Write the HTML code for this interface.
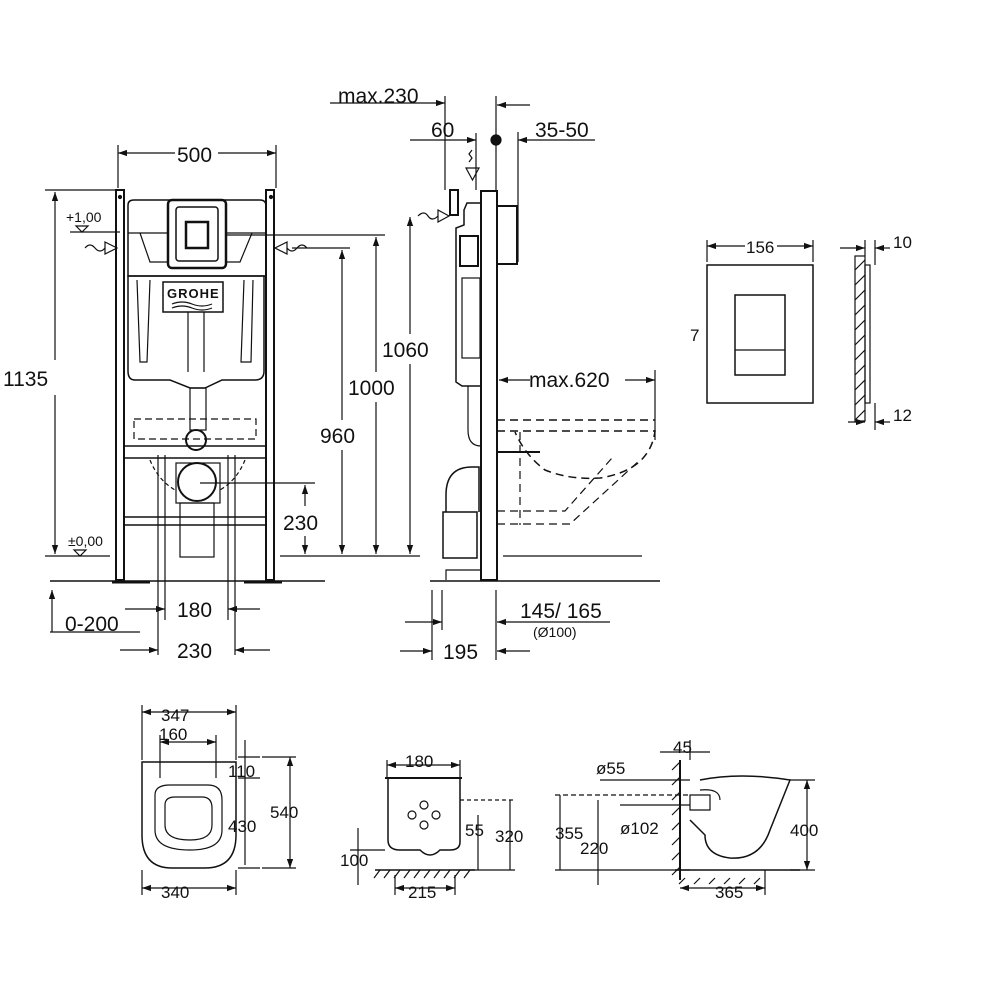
<!DOCTYPE html>
<html><head><meta charset="utf-8"><style>
html,body{margin:0;padding:0;background:#fff;}
svg{display:block;}
text{font-family:"Liberation Sans",sans-serif;fill:#111;}
.t{font-size:21px;}
.s{font-size:17px;}
.x{font-size:14px;}
</style></head><body>
<svg width="1000" height="1000" viewBox="0 0 1000 1000" xmlns="http://www.w3.org/2000/svg">
<defs>
<marker id="a" viewBox="0 0 10 10" refX="10" refY="5" markerWidth="9" markerHeight="9" orient="auto-start-reverse" markerUnits="userSpaceOnUse"><path d="M0 1.5 L10 5 L0 8.5 Z" fill="#111"/></marker>
</defs>
<g stroke="#111" fill="none" stroke-width="1.2">
<!-- ===== FRONT VIEW ===== -->
<rect x="116" y="190" width="8" height="390" fill="#fff" stroke-width="2"/>
<rect x="266" y="190" width="8" height="390" fill="#fff" stroke-width="2"/>
<circle cx="120" cy="197" r="1.5" fill="#111"/><circle cx="271" cy="197" r="1.5" fill="#111"/>
<line x1="112" y1="582" x2="150" y2="582" stroke-width="3"/>
<line x1="244" y1="582" x2="282" y2="582" stroke-width="3"/>
<line x1="124" y1="446" x2="266" y2="446" stroke-width="1.5"/>
<line x1="124" y1="458" x2="266" y2="458" stroke-width="1.5"/>
<line x1="124" y1="517" x2="266" y2="517" stroke-width="1.5"/>
<line x1="124" y1="525" x2="266" y2="525" stroke-width="1.5"/>
<!-- tank -->
<path d="M128 205 Q128 200 134 200 H260 Q266 200 266 206 V276 H128 Z" stroke-width="1.5"/>
<path d="M128 233 H266 M140 233 L150 262 H240 L252 233"/>
<path d="M128 276 H264 V371 Q264 380 255 380 H222 L205 388 H190 L170 380 H135 Q128 380 128 371 Z" stroke-width="1.5"/>
<rect x="168" y="200" width="58" height="68" rx="4" stroke-width="2.5" fill="#fff"/>
<rect x="176" y="207" width="42" height="54" rx="3" stroke-width="1.5"/>
<rect x="186" y="222" width="22" height="26" stroke-width="2.5"/>
<rect x="163" y="282" width="60" height="30" stroke-width="1.5"/>
<text x="167" y="298" style="font-size:13px;font-weight:bold;letter-spacing:1px" fill="#666" stroke="none">GROHE</text>
<path d="M172 304 q10 -4 20 0 t20 0 M172 308 q10 -4 20 0 t20 0" />
<path d="M137 280 L140 362 H147 L150 280 M244 280 L241 362 H251 L253 280"/>
<line x1="188" y1="312" x2="188" y2="372"/><line x1="204" y1="312" x2="204" y2="372"/>
<rect x="190" y="388" width="16" height="42"/>
<circle cx="196" cy="440" r="10" stroke-width="2"/>
<rect x="134" y="419" width="122" height="20" stroke-dasharray="7 4"/>
<circle cx="197" cy="482" r="19" stroke-width="2"/>
<rect x="176" y="463" width="44" height="40"/>
<rect x="180" y="503" width="34" height="54"/>
<path d="M150 460 q8 20 25 30 M245 460 q-8 20 -25 30" stroke-dasharray="4 3"/>
<!-- inlet arrows -->
<path d="M85 248 q5 -6 10 0 t10 0" /><path d="M105 242 l12 6 l-12 6 z"/>
<path d="M307 248 q-5 -6 -10 0 t-10 0" /><path d="M287 242 l-12 6 l12 6 z"/>
<!-- dims front -->
<line x1="118" y1="153" x2="175" y2="153" marker-start="url(#a)"/>
<line x1="218" y1="153" x2="276" y2="153" marker-end="url(#a)"/>
<line x1="118" y1="145" x2="118" y2="188"/><line x1="276" y1="145" x2="276" y2="188"/>
<line x1="55" y1="192" x2="55" y2="360" marker-start="url(#a)"/>
<line x1="55" y1="395" x2="55" y2="554" marker-end="url(#a)"/>
<line x1="45" y1="190" x2="116" y2="190"/>
<line x1="45" y1="556" x2="110" y2="556"/>
<line x1="70" y1="232" x2="120" y2="232"/>
<path d="M76 226 l6 6 l6 -6 z"/>
<path d="M74 550 l6 6 l6 -6 z"/>
<line x1="50" y1="581" x2="325" y2="581" stroke-width="1.5"/>
<line x1="430" y1="581" x2="660" y2="581" stroke-width="1.5"/>
<line x1="52" y1="590" x2="52" y2="632" marker-start="url(#a)"/>
<line x1="50" y1="632" x2="140" y2="632"/>
<line x1="342" y1="250" x2="342" y2="420" marker-start="url(#a)"/>
<line x1="342" y1="450" x2="342" y2="554" marker-end="url(#a)"/>
<line x1="292" y1="248" x2="350" y2="248"/>
<line x1="376" y1="237" x2="376" y2="372" marker-start="url(#a)"/>
<line x1="376" y1="402" x2="376" y2="554" marker-end="url(#a)"/>
<line x1="226" y1="235" x2="385" y2="235"/>
<line x1="410" y1="217" x2="410" y2="334" marker-start="url(#a)"/>
<line x1="410" y1="364" x2="410" y2="554" marker-end="url(#a)"/>
<line x1="305" y1="485" x2="305" y2="506" marker-start="url(#a)"/>
<line x1="305" y1="536" x2="305" y2="554" marker-end="url(#a)"/>
<line x1="200" y1="483" x2="315" y2="483"/>
<line x1="280" y1="556" x2="420" y2="556"/>
<line x1="158" y1="455" x2="158" y2="655"/>
<line x1="235" y1="455" x2="235" y2="655"/>
<line x1="165" y1="455" x2="165" y2="620"/>
<line x1="228" y1="455" x2="228" y2="620"/>
<line x1="125" y1="609" x2="165" y2="609" marker-end="url(#a)"/>
<line x1="228" y1="609" x2="260" y2="609" marker-start="url(#a)"/>
<line x1="120" y1="650" x2="158" y2="650" marker-end="url(#a)"/>
<line x1="235" y1="650" x2="270" y2="650" marker-start="url(#a)"/>
<!-- ===== SIDE VIEW ===== -->
<rect x="481" y="191" width="16" height="389" stroke-width="2"/>
<line x1="496" y1="96" x2="496" y2="190"/>
<line x1="330" y1="103" x2="445" y2="103" marker-end="url(#a)"/>
<line x1="445" y1="96" x2="445" y2="190"/>
<line x1="530" y1="105" x2="497" y2="105" marker-end="url(#a)"/>
<line x1="410" y1="140" x2="476" y2="140" marker-end="url(#a)"/>
<line x1="476" y1="133" x2="476" y2="190"/>
<line x1="595" y1="140" x2="518" y2="140" marker-end="url(#a)"/>
<line x1="518" y1="132" x2="518" y2="262"/>
<circle cx="496" cy="140" r="5" fill="#111"/>
<rect x="497" y="206" width="20" height="58" stroke-width="2"/>
<path d="M481 203 H467 L464 210 V225 L456 228 V382 L462 386 H481" stroke-width="1.5"/>
<rect x="460" y="236" width="18" height="30" stroke-width="2"/>
<rect x="462" y="278" width="18" height="80"/>
<path d="M468 386 V430 Q468 446 481 446"/>
<path d="M446 512 V495 Q446 467 472 467 H479 V512" stroke-width="1.5"/>
<rect x="443" y="512" width="34" height="46" stroke-width="1.5"/>
<path d="M446 580 v-10 h35"/>
<path d="M472 150 l-3 4 l3 4 l-3 4 M466 168 l13 0 l-6.5 12 z"/>
<path d="M418 216 q6 -6 10 0 t10 0"/><path d="M438 210 l11 6 l-11 6 z"/>
<path d="M450 190 h8 v25 h-8 z" stroke-width="2"/>
<line x1="499" y1="380" x2="530" y2="380" marker-start="url(#a)"/>
<line x1="625" y1="380" x2="655" y2="380" marker-end="url(#a)"/>
<line x1="655" y1="370" x2="655" y2="440"/>
<path d="M497 420 H655 M497 431 H655 Q650 470 600 478 Q570 480 545 470 Q525 455 515 432" stroke-dasharray="8 5" stroke-width="1.5"/>
<path d="M520 432 V525 M497 511 H565 L612 458 M497 524 H570 L640 460" stroke-dasharray="8 5"/>
<line x1="497" y1="452" x2="540" y2="452" stroke-width="2"/>
<line x1="503" y1="556" x2="642" y2="556"/>
<line x1="432" y1="590" x2="432" y2="660"/>
<line x1="442" y1="590" x2="442" y2="630"/>
<line x1="496" y1="590" x2="496" y2="660"/>
<line x1="405" y1="622" x2="442" y2="622" marker-end="url(#a)"/>
<line x1="610" y1="622" x2="497" y2="622" marker-end="url(#a)"/>
<line x1="400" y1="651" x2="432" y2="651" marker-end="url(#a)"/>
<line x1="530" y1="651" x2="497" y2="651" marker-end="url(#a)"/>
<!-- ===== FLUSH PLATE ===== -->
<rect x="707" y="265" width="106" height="138" stroke-width="1.5"/>
<rect x="735" y="295" width="50" height="80" stroke-width="1.5"/>
<line x1="735" y1="350" x2="785" y2="350"/>
<line x1="707" y1="240" x2="707" y2="262"/><line x1="813" y1="240" x2="813" y2="262"/>
<line x1="707" y1="246" x2="745" y2="246" marker-start="url(#a)"/><line x1="777" y1="246" x2="813" y2="246" marker-end="url(#a)"/>
<rect x="855" y="256" width="10" height="165" stroke-width="1.2"/>
<path d="M855 270 l10 -10 M855 285 l10 -10 M855 300 l10 -10 M855 315 l10 -10 M855 330 l10 -10 M855 345 l10 -10 M855 360 l10 -10 M855 375 l10 -10 M855 390 l10 -10 M855 405 l10 -10 M855 420 l10 -10"/>
<rect x="865" y="265" width="5" height="138"/>
<line x1="865" y1="240" x2="865" y2="256"/><line x1="875" y1="240" x2="875" y2="265"/>
<line x1="840" y1="248" x2="865" y2="248" marker-end="url(#a)"/><line x1="890" y1="248" x2="875" y2="248" marker-end="url(#a)"/>
<line x1="848" y1="422" x2="865" y2="422" marker-end="url(#a)"/><line x1="890" y1="422" x2="875" y2="422" marker-end="url(#a)"/>
<line x1="875" y1="403" x2="875" y2="430"/>
<!-- ===== BOTTOM LEFT TOILET ===== -->
<path d="M142 762 H236 V835 Q236 868 205 868 H172 Q142 868 142 835 Z" stroke-width="1.5"/>
<path d="M155 795 Q155 785 170 785 H208 Q222 785 222 800 V830 Q222 850 190 850 Q155 850 155 830 Z"/>
<path d="M165 805 Q165 797 175 797 H202 Q212 797 212 808 V825 Q212 840 190 840 Q165 840 165 825 Z"/>
<line x1="142" y1="712" x2="236" y2="712" marker-start="url(#a)" marker-end="url(#a)"/><line x1="142" y1="705" x2="142" y2="760"/><line x1="236" y1="705" x2="236" y2="760"/>
<line x1="160" y1="742" x2="216" y2="742" marker-start="url(#a)" marker-end="url(#a)"/><line x1="160" y1="735" x2="160" y2="778"/><line x1="216" y1="735" x2="216" y2="778"/>
<line x1="142" y1="888" x2="236" y2="888" marker-start="url(#a)" marker-end="url(#a)"/><line x1="142" y1="870" x2="142" y2="895"/><line x1="236" y1="870" x2="236" y2="895"/>
<line x1="245" y1="740" x2="245" y2="865"/><line x1="238" y1="757" x2="260" y2="757"/><line x1="238" y1="778" x2="260" y2="778"/><line x1="238" y1="868" x2="260" y2="868"/>
<line x1="290" y1="757" x2="290" y2="868" marker-start="url(#a)" marker-end="url(#a)"/><line x1="262" y1="757" x2="296" y2="757"/><line x1="262" y1="868" x2="296" y2="868"/>
<!-- ===== BOTTOM MIDDLE ===== -->
<path d="M388 778 H460 V842 Q460 850 450 850 H440 Q430 860 420 850 H400 Q388 850 388 840 Z" stroke-width="1.5"/>
<line x1="385" y1="778" x2="462" y2="778" stroke-width="2"/>
<circle cx="424" cy="805" r="4"/><circle cx="424" cy="825" r="4"/><circle cx="412" cy="815" r="4"/><circle cx="436" cy="815" r="4"/>
<line x1="387" y1="760" x2="387" y2="778"/><line x1="460" y1="760" x2="460" y2="778"/><line x1="387" y1="765" x2="460" y2="765" marker-start="url(#a)" marker-end="url(#a)"/>
<line x1="375" y1="870" x2="475" y2="870" stroke-width="1.5"/>
<path d="M380 870 l-6 8 M390 870 l-6 8 M400 870 l-6 8 M410 870 l-6 8 M420 870 l-6 8 M430 870 l-6 8 M440 870 l-6 8 M450 870 l-6 8 M460 870 l-6 8 M470 870 l-6 8"/>
<line x1="358" y1="828" x2="358" y2="885"/><line x1="350" y1="850" x2="385" y2="850"/>
<line x1="460" y1="800" x2="515" y2="800" stroke-dasharray="4 3"/>
<line x1="510" y1="800" x2="510" y2="870"/><line x1="478" y1="815" x2="478" y2="870"/>
<line x1="460" y1="870" x2="515" y2="870"/>
<line x1="395" y1="888" x2="455" y2="888" marker-start="url(#a)" marker-end="url(#a)"/><line x1="395" y1="875" x2="395" y2="895"/><line x1="455" y1="875" x2="455" y2="895"/>
<!-- ===== BOTTOM RIGHT ===== -->
<line x1="680" y1="760" x2="680" y2="880" stroke-width="2"/>
<path d="M672 770 l8 -8 M672 785 l8 -8 M672 800 l8 -8 M672 815 l8 -8 M672 830 l8 -8 M672 845 l8 -8 M672 860 l8 -8 M672 875 l8 -8"/>
<line x1="675" y1="870" x2="800" y2="870" stroke-width="1.5"/>
<path d="M685 878 l-6 6 M700 878 l-6 6 M715 878 l-6 6 M730 878 l-6 6 M745 878 l-6 6 M760 878 l-6 6"/>
<path d="M700 780 Q740 772 790 780 L770 830 Q760 860 730 858 Q705 855 705 835 L690 820" stroke-width="1.5"/>
<path d="M690 795 H710 V810 H690 Z M700 790 Q720 788 720 800"/>
<line x1="555" y1="795" x2="690" y2="795" stroke-dasharray="5 3"/>
<line x1="600" y1="780" x2="690" y2="780"/>
<line x1="560" y1="795" x2="560" y2="870"/>
<line x1="598" y1="800" x2="598" y2="885"/>
<line x1="555" y1="870" x2="690" y2="870"/>
<line x1="620" y1="805" x2="690" y2="805"/>
<line x1="690" y1="740" x2="690" y2="760"/><line x1="660" y1="752" x2="710" y2="752"/>
<line x1="807" y1="780" x2="807" y2="870" marker-start="url(#a)" marker-end="url(#a)"/><line x1="790" y1="780" x2="815" y2="780"/><line x1="790" y1="870" x2="815" y2="870"/>
<line x1="680" y1="888" x2="765" y2="888" marker-start="url(#a)" marker-end="url(#a)"/><line x1="765" y1="870" x2="765" y2="895"/>
</g>
<!-- TEXT -->
<text class="t" x="177" y="162">500</text>
<text class="x" x="66" y="222">+1,00</text>
<text class="x" x="68" y="546">±0,00</text>
<text class="t" x="3" y="386">1135</text>
<text class="t" x="320" y="443">960</text>
<text class="t" x="348" y="395">1000</text>
<text class="t" x="382" y="357">1060</text>
<text class="t" x="283" y="530">230</text>
<text class="t" x="177" y="617">180</text>
<text class="t" x="177" y="658">230</text>
<text class="t" x="65" y="631">0-200</text>
<text class="t" x="338" y="103">max.230</text>
<text class="t" x="431" y="137">60</text>
<text class="t" x="535" y="137">35-50</text>
<text class="t" x="529" y="387">max.620</text>
<text class="t" x="520" y="618">145/ 165</text>
<text class="x" x="533" y="637">(Ø100)</text>
<text class="t" x="443" y="659">195</text>
<text class="s" x="746" y="253">156</text>
<text class="s" x="690" y="341">7</text>
<text class="s" x="893" y="248">10</text>
<text class="s" x="893" y="421">12</text>
<text class="s" x="161" y="721">347</text>
<text class="s" x="159" y="740">160</text>
<text class="s" x="228" y="777">110</text>
<text class="s" x="228" y="832">430</text>
<text class="s" x="270" y="818">540</text>
<text class="s" x="161" y="898">340</text>
<text class="s" x="405" y="767">180</text>
<text class="s" x="465" y="836">55</text>
<text class="s" x="495" y="842">320</text>
<text class="s" x="340" y="866">100</text>
<text class="s" x="408" y="898">215</text>
<text class="s" x="673" y="753">45</text>
<text class="s" x="596" y="774">ø55</text>
<text class="s" x="555" y="839">355</text>
<text class="s" x="580" y="854">220</text>
<text class="s" x="620" y="834">ø102</text>
<text class="s" x="790" y="836">400</text>
<text class="s" x="715" y="898">365</text>
</svg>
</body></html>
